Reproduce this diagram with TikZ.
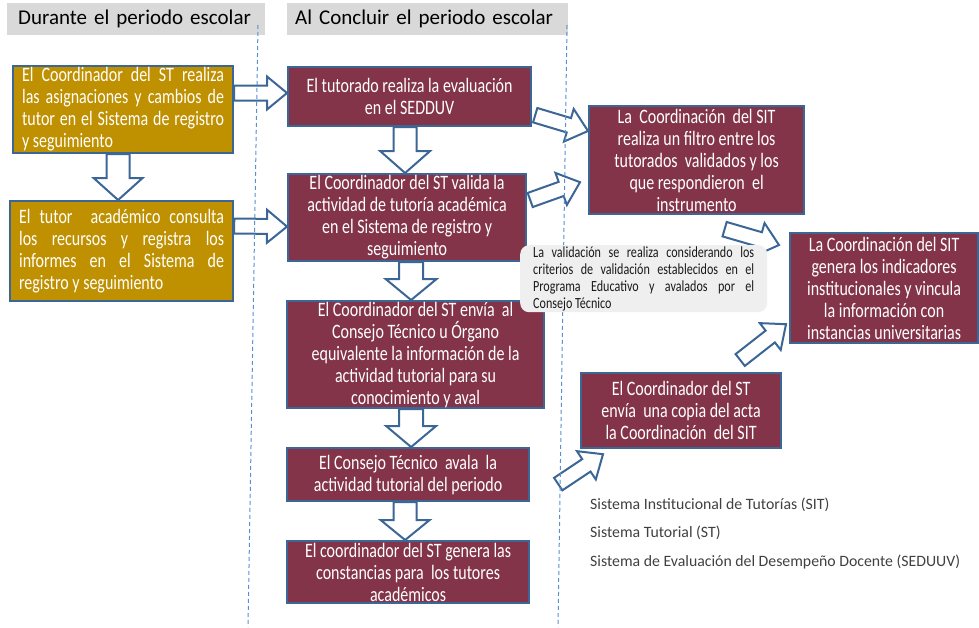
\documentclass[tikz,border=0pt]{standalone}
\usepackage{fontspec}
\setmainfont{Carlito}
\newfontfamily\condfont{Carlito}[FakeStretch=0.78]
\usetikzlibrary{calc}
\definecolor{stGold}{HTML}{BF9000}
\definecolor{stWine}{HTML}{833449}
\definecolor{stEdge}{HTML}{3B6696}
\definecolor{stDash}{HTML}{5B8FD3}
\definecolor{stHead}{HTML}{D9D9D9}
\definecolor{stNote}{HTML}{EFEFEF}
\definecolor{stText}{HTML}{404040}
\tikzset{
  stnode/.style={
    draw=stEdge, line width=2.2pt, inner xsep=9pt, inner ysep=0pt,
    anchor=north west, text=white, font=\condfont\fontsize{20.5}{22}\selectfont
  },
  during/.style={stnode, fill=stGold, align=justify},
  after/.style={stnode, fill=stWine, align=center},
  header/.style={
    fill=stHead, anchor=north west, minimum height=32pt, align=left,
    text=black, font=\fontsize{21}{24}\selectfont
  },
  note/.style={
    fill=stNote, rounded corners=9pt, anchor=north west, minimum height=67pt,
    inner xsep=13pt, inner ysep=0pt, text width=221pt, align=justify,
    text=black!90, font=\condfont\fontsize{15.5}{17}\selectfont
  },
  legend/.style={anchor=west, inner sep=0pt, text=stText, font=\fontsize{15.8}{18}\selectfont},
  sepline/.style={stDash, line width=1pt, dash pattern=on 4pt off 3pt},
  blockarr/.style={draw=stEdge, fill=white, line width=2pt, line join=miter}
}
% #1 shaft half width, #2 head half width, #3 head length, #4 from, #5 to
\newcommand{\blockarrow}[5]{%
  \coordinate (neck) at ($(#5)!#3pt!(#4)$);
  \draw[blockarr] ($(#4)!#1pt!90:(#5)$) -- ($(neck)!#1pt!90:(#5)$)
    -- ($(neck)!#2pt!90:(#5)$) -- (#5) -- ($(neck)!#2pt!-90:(#5)$)
    -- ($(neck)!#1pt!-90:(#5)$) -- ($(#4)!#1pt!-90:(#5)$) -- cycle;
}

\begin{document}
\begin{tikzpicture}[x=1pt, y=-1pt]
  \useasboundingbox (0,0) rectangle (979,627);

  % headers
  \node[header, inner xsep=11pt, text width=236pt] (during) at (7,3) {Durante el periodo escolar};
  \node[header, inner xsep=8pt, text width=265pt] (closing) at (287,3) {Al Concluir el periodo escolar};

  % during the period
  \node[during, text width=202pt, minimum height=87pt] (assign) at (12,65)
    {El Coordinador del ST realiza\linebreak las asignaciones y cambios de\linebreak tutor en el Sistema de registro\linebreak y seguimiento};
  \node[during, text width=205pt, minimum height=100pt] (consult) at (9,200)
    {El tutor \ académico consulta\linebreak los recursos y registra los\linebreak informes en el Sistema de\linebreak registro y seguimiento};

  % closing the period
  \node[after, minimum width=243pt, minimum height=59pt] (evaluate) at (287,66)
    {El tutorado realiza la evaluación\\en el SEDDUV};
  \node[after, minimum width=238pt, minimum height=87pt] (validate) at (287,173)
    {El Coordinador del ST valida la\\actividad de tutoría académica\\en el Sistema de registro y\\seguimiento};
  \node[after, minimum width=257pt, minimum height=107pt] (send) at (286,300)
    {El Coordinador del ST envía \ al\\Consejo Técnico u Órgano\\equivalente la información de la\\actividad tutorial para su\\conocimiento y aval};
  \node[after, minimum width=242pt, minimum height=53pt] (endorse) at (286,447)
    {El Consejo Técnico \ avala \ la\\actividad tutorial del periodo};
  \node[after, minimum width=242pt, minimum height=62pt] (certify) at (286,540)
    {El coordinador del ST genera las\\constancias para \ los tutores\\académicos};

  % SIT side
  \node[after, minimum width=215pt, minimum height=108pt] (filter) at (588,105)
    {La \ Coordinación \ del SIT\\realiza un filtro entre los\\tutorados \ validados y los\\que respondieron \ el\\instrumento};
  \node[after, minimum width=188pt, minimum height=110pt] (indicators) at (789,232)
    {La Coordinación del SIT\\genera los indicadores\\institucionales y vincula\\la información con\\instancias universitarias};
  \node[after, minimum width=200pt, minimum height=75pt] (copy) at (580,372)
    {El Coordinador del ST\\envía \ una copia del acta\\la Coordinación \ del SIT};

  % block arrows
  \coordinate (a1s) at ($(assign.north east)+(0,28)$);
  \coordinate (a1e) at ($(evaluate.north west)+(0,27)$);
  \blockarrow{7.5}{16.5}{20}{a1s}{a1e}
  \coordinate (a2s) at ($(consult.north east)+(0,26)$);
  \coordinate (a2e) at ($(validate.west)+(0,9)$);
  \blockarrow{7.5}{16.5}{20}{a2s}{a2e}
  \coordinate (a3s) at ($(assign.south)+(-5,0)$);
  \coordinate (a3e) at (a3s |- consult.north);
  \blockarrow{11.5}{24.5}{22}{a3s}{a3e}
  \coordinate (a4s) at ($(evaluate.south)+(-4.5,0)$);
  \coordinate (a4e) at (a4s |- validate.north);
  \blockarrow{11.5}{25}{22}{a4s}{a4e}
  \coordinate (a5s) at ($(validate.south)+(4,0)$);
  \coordinate (a5e) at (a5s |- send.north);
  \blockarrow{12}{25.5}{21}{a5s}{a5e}
  \coordinate (a6s) at ($(send.south)+(-4.5,0)$);
  \coordinate (a6e) at (a6s |- endorse.north);
  \blockarrow{12}{25}{21}{a6s}{a6e}
  \coordinate (a7s) at ($(endorse.south)+(-3,0)$);
  \coordinate (a7e) at (a7s |- certify.north);
  \blockarrow{11.5}{24.5}{20}{a7s}{a7e}
  \coordinate (a8s) at ($(evaluate.south east)+(3,-12)$);
  \coordinate (a8e) at ($(filter.north west)+(0,26)$);
  \blockarrow{7.5}{17}{20}{a8s}{a8e}
  \coordinate (a9s) at ($(validate.north east)+(3,27)$);
  \coordinate (a9e) at ($(filter.south west)+(-8,-33)$);
  \blockarrow{7.5}{17}{20}{a9s}{a9e}
  \coordinate (a10s) at ($(filter.south)+(28,14)$);
  \coordinate (a10e) at ($(indicators.north west)+(-10,13)$);
  \blockarrow{7.5}{17}{20}{a10s}{a10e}
  \coordinate (a11s) at ($(copy.north east)+(-42,-12)$);
  \coordinate (a11e) at ($(indicators.south west)+(-3,-20)$);
  \blockarrow{7.5}{17}{20}{a11s}{a11e}
  \coordinate (a12s) at ($(endorse.east)+(28,9.5)$);
  \coordinate (a12e) at ($(copy.south west)+(23,5)$);
  \blockarrow{7.5}{17}{20}{a12s}{a12e}

  % period separators
  \coordinate (sepA top) at (258,25);
  \coordinate (sepA bot) at (248,627);
  \coordinate (sepB top) at (567,25);
  \coordinate (sepB bot) at (558,627);
  \draw[sepline] (sepA top) -- (sepA bot);
  \draw[sepline] (sepB top) -- (sepB bot);

  \node[note] (criteria) at (520,245)
    {La validación se realiza considerando los\linebreak criterios de validación establecidos en el\linebreak Programa Educativo y avalados por el\linebreak Consejo Técnico};

  % acronyms
  \node[legend] (sit) at (590,505) {Sistema Institucional de Tutorías (SIT)};
  \node[legend] (st) at (590,533) {Sistema Tutorial (ST)};
  \node[legend] (seduuv) at (590,562) {Sistema de Evaluación del Desempeño Docente (SEDUUV)};
\end{tikzpicture}
\end{document}
